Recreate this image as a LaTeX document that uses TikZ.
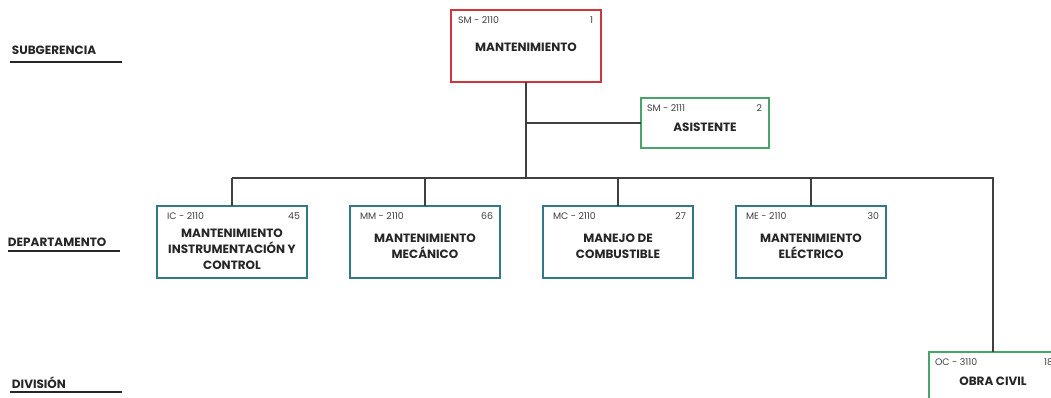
\documentclass[tikz,border=0pt]{standalone}
\usepackage{fontspec}
\setmainfont{Poppins}
\begin{document}
\begin{tikzpicture}[x=1pt,y=-1pt,
  every node/.style={inner sep=0pt, outer sep=0pt},
  unitbox/.style={draw, line width=1.6pt, fill=white, minimum height=72pt, minimum width=150pt, anchor=north west},
  codetxt/.style={font=\fontsize{9.4}{10}\selectfont, text=black!75},
  titletxt/.style={font=\bfseries\fontsize{12}{16}\selectfont, align=center, text=black!85},
  leveltxt/.style={font=\bfseries\fontsize{12}{12}\selectfont, anchor=west, text=black!85},
  levelline/.style={line width=1.8pt, black!85},
  link/.style={line width=1.8pt, black!75}]
\definecolor{redunit}{RGB}{205,55,60}
\definecolor{greenunit}{RGB}{70,165,105}
\definecolor{tealunit}{RGB}{50,120,135}
\useasboundingbox (0,0) rectangle (1051,398);
\clip (0,0) rectangle (1051,398);

% level labels on the left
\node[leveltxt] (lsub) at (12,50) {SUBGERENCIA};
\draw[levelline] (10,62) -- (122,62);
\node[leveltxt] (ldep) at (8,242) {DEPARTAMENTO};
\draw[levelline] (8,251) -- (120,251);
\node[leveltxt] (ldiv) at (12,383) {DIVISIÓN};
\draw[levelline] (10,392) -- (122,392);

% connectors
\coordinate (jasis) at (526,123);
\coordinate (bus) at (526,178);
\coordinate (busL) at (232,178);
\coordinate (busR) at (993,178);

% units
\node[unitbox, draw=redunit] (sm) at (451,10) {};
\node[codetxt, anchor=west] (smc) at ([xshift=7pt,yshift=-10pt]sm.north west) {SM - 2110};
\node[codetxt, anchor=east] (smn) at ([xshift=-8pt,yshift=-10pt]sm.north east) {1};
\node[titletxt] (smt) at ([yshift=-37pt]sm.north) {MANTENIMIENTO};

\node[unitbox, draw=greenunit, minimum width=128pt, minimum height=50pt] (as) at (641,98) {};
\node[codetxt, anchor=west] (asc) at ([xshift=6pt,yshift=-10pt]as.north west) {SM - 2111};
\node[codetxt, anchor=east] (asn) at ([xshift=-7pt,yshift=-10pt]as.north east) {2};
\node[titletxt] (ast) at ([yshift=-29pt]as.north) {ASISTENTE};

\foreach \nm/\x/\cd/\num/\ty/\ttl in {
  ic/157/IC - 2110/45/43/{MANTENIMIENTO\\INSTRUMENTACIÓN Y\\CONTROL},
  mm/350/MM - 2110/66/40/{MANTENIMIENTO\\MECÁNICO},
  mc/543/MC - 2110/27/40/{MANEJO DE\\COMBUSTIBLE},
  me/736/ME - 2110/30/40/{MANTENIMIENTO\\ELÉCTRICO}}{
  \node[unitbox, draw=tealunit] (\nm) at (\x,206) {};
  \node[codetxt, anchor=west] (\nm c) at ([xshift=10pt,yshift=-10pt]\nm.north west) {\cd};
  \node[codetxt, anchor=east] (\nm n) at ([xshift=-7pt,yshift=-10pt]\nm.north east) {\num};
  \node[titletxt] (\nm t) at ([yshift=-\ty pt]\nm.north) {\ttl};
  \draw[link] (\nm.north) -- (\nm.north |- bus);
}

\node[unitbox, draw=greenunit, minimum width=128pt] (oc) at (929,352) {};
\node[codetxt, anchor=west] (occ) at ([xshift=6pt,yshift=-10pt]oc.north west) {OC - 3110};
\node[codetxt, anchor=east] (ocn) at ([xshift=-4pt,yshift=-10pt]oc.north east) {18};
\node[titletxt] (oct) at ([yshift=-29pt]oc.north) {OBRA CIVIL};

\draw[link] (sm.south) -- (bus);
\draw[link] (jasis) -- (as.west);
\draw[link] (busL) -- (busR) -- (oc.north);
\end{tikzpicture}
\end{document}
